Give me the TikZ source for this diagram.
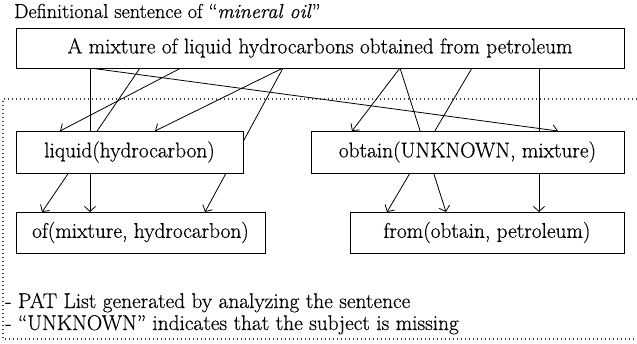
\documentclass[tikz,border=0pt]{standalone}
\usepackage{fontspec}
\setmainfont{Latin Modern Roman}[FakeBold=0.5]
\usetikzlibrary{arrows.meta,backgrounds}
\begin{document}
\begin{tikzpicture}[x=1pt,y=-1pt,
  box/.style={draw,line width=1pt,fill=white,inner sep=0pt,outer sep=0pt,font=\rmfamily\fontsize{21.3}{25}\selectfont},
  lbl/.style={inner sep=0pt,anchor=base west,font=\rmfamily\fontsize{21.3}{25}\selectfont},
  arr/.style={line width=0.8pt,-{Straight Barb[length=5pt,width=11pt,line width=0.8pt]}},
  frame/.style={line width=1.1pt,dash pattern=on 1.1pt off 2.9pt,black!75}]
\useasboundingbox (0,0) rectangle (637,343);
\node[lbl,font=\rmfamily\fontsize{20.2}{24}\selectfont] (title) at (14,18) {Definitional sentence of “\textit{mineral oil}”};
\node[box,minimum width=608pt,minimum height=40pt] (top) at (320,48) {A mixture of liquid hydrocarbons obtained from petroleum};
\node[box,minimum width=227pt,minimum height=42pt] (midL) at (129.5,152) {liquid(hydrocarbon)};
\node[box,minimum width=313pt,minimum height=42pt] (midR) at (467.5,152) {obtain(UNKNOWN, mixture)};
\node[box,minimum width=249pt,minimum height=41pt] (botL) at (140.5,232.5) {of(mixture, hydrocarbon)};
\node[box,minimum width=274pt,minimum height=41pt] (botR) at (487,232.5) {from(obtain, petroleum)};
\node[lbl] (note1) at (5,308) {- PAT List generated by analyzing the sentence};
\node[lbl] (note2) at (5,330) {- “UNKNOWN” indicates that the subject is missing};
\coordinate (s1) at ([xshift=74pt]top.south west);
\coordinate (s2) at ([xshift=124pt]top.south west);
\coordinate (s3) at ([xshift=165pt]top.south west);
\coordinate (s4) at ([xshift=267pt]top.south west);
\coordinate (s5) at ([xshift=384pt]top.south west);
\coordinate (s6) at ([xshift=456pt]top.south west);
\coordinate (s7) at ([xshift=523pt]top.south west);
\coordinate (fr1) at (637,99);
\coordinate (fr2) at (3,99);
\coordinate (fr3) at (3,339);
\coordinate (fr4) at (637,339);
\begin{scope}[on background layer]
\draw[frame] (fr1) -- (fr2) -- (fr3) -- (fr4);
\draw[arr] (s1) -- ([xshift=74pt]botL.north west);
\draw[arr] (s1) -- ([xshift=247pt]midR.north west);
\draw[arr] (s2) -- ([xshift=26pt]botL.north west);
\draw[arr] (s3) -- ([xshift=44pt]midL.north west);
\draw[arr] (s4) -- ([xshift=139pt]midL.north west);
\draw[arr] (s4) -- ([xshift=189pt]botL.north west);
\draw[arr] (s5) -- ([xshift=41pt]midR.north west);
\draw[arr] (s5) -- ([xshift=96pt]botR.north west);
\draw[arr] (s6) -- ([xshift=37pt]botR.north west);
\draw[arr] (s7) -- ([xshift=189pt]botR.north west);
\end{scope}
\end{tikzpicture}
\end{document}
